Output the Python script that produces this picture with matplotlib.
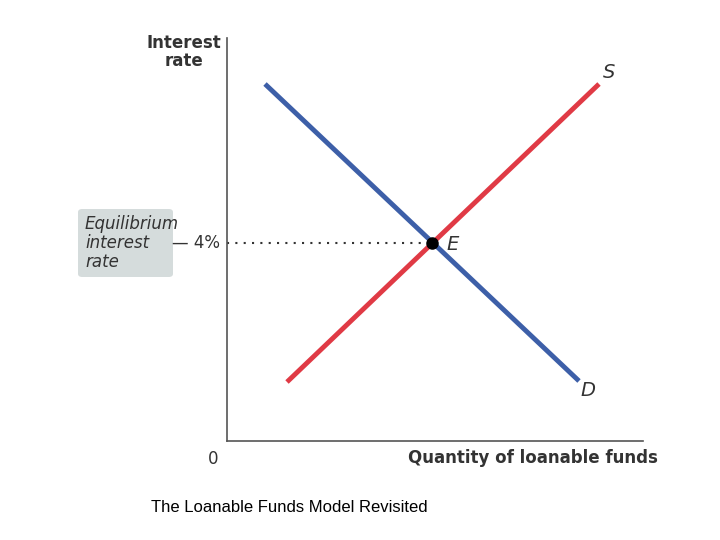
import matplotlib
matplotlib.use("Agg")
import matplotlib.pyplot as plt
from matplotlib.patches import FancyBboxPatch

W, H = 720, 540

# curve endpoints in data units (axis origin = 0,0)
supply_x = [60, 372]
supply_y = [59, 357]
demand_x = [38, 352]
demand_y = [357, 60]
eq_x, eq_y = 205, 198
rate_label = "4%"

fig = plt.figure(figsize=(7.2, 5.4), dpi=100)
ax = fig.add_axes([227 / W, (H - 441) / H, (643 - 227) / W, (441 - 38) / H])
ax.set_xlim(0, 416)
ax.set_ylim(0, 403)
for s in ["top", "right"]:
    ax.spines[s].set_visible(False)
for s in ["left", "bottom"]:
    ax.spines[s].set_color("#555555")
    ax.spines[s].set_linewidth(1.2)
ax.set_xticks([])
ax.set_yticks([])

ax.plot(supply_x, supply_y, color="#e03a45", lw=3.5, solid_capstyle="butt")
ax.plot(demand_x, demand_y, color="#3d5fa8", lw=3.5, solid_capstyle="butt")
ax.plot([0, eq_x], [eq_y, eq_y], color="#333333", lw=1.5, ls=(0, (1, 3)))
ax.plot(eq_x, eq_y, "o", color="black", ms=8, zorder=5)

cond = "Liberation Sans Narrow"


def ftxt(px, py, s, **kw):
    kw.setdefault("family", [cond, "DejaVu Sans"])
    fig.text(px / W, 1 - py / H, s, **kw)


c = "#333333"
ftxt(184, 52, "Interest\nrate", ha="center", va="center", fontweight="bold",
     fontsize=12, color=c, linespacing=1.0)
ftxt(609, 73, "S", ha="center", va="center", style="italic", fontsize=14, color=c)
ftxt(588, 391, "D", ha="center", va="center", style="italic", fontsize=14, color=c)
ftxt(453, 244, "E", ha="center", va="center", style="italic", fontsize=14, color=c)
ftxt(213, 459, "0", ha="center", va="center", fontsize=12, color=c)
ftxt(533, 458, "Quantity of loanable funds", ha="center", va="center",
     fontweight="bold", fontsize=12, color=c)
ftxt(220, 243, "— " + rate_label, ha="right", va="center", fontsize=12, color=c)

box = FancyBboxPatch((78 / W, 1 - 277 / H), 95 / W, 68 / H,
                     boxstyle="round,pad=0,rounding_size=0.006",
                     transform=fig.transFigure, facecolor="#d5dcdc",
                     edgecolor="none")
fig.patches.append(box)
ftxt(85, 243, "Equilibrium\ninterest\nrate", ha="left", va="center",
     style="italic", fontsize=12, color=c, linespacing=1.05)

ftxt(289, 507, "The Loanable Funds Model Revisited", ha="center", va="center",
     fontsize=12, family="Liberation Sans", color="black")

fig.savefig("out.png", dpi=100)
